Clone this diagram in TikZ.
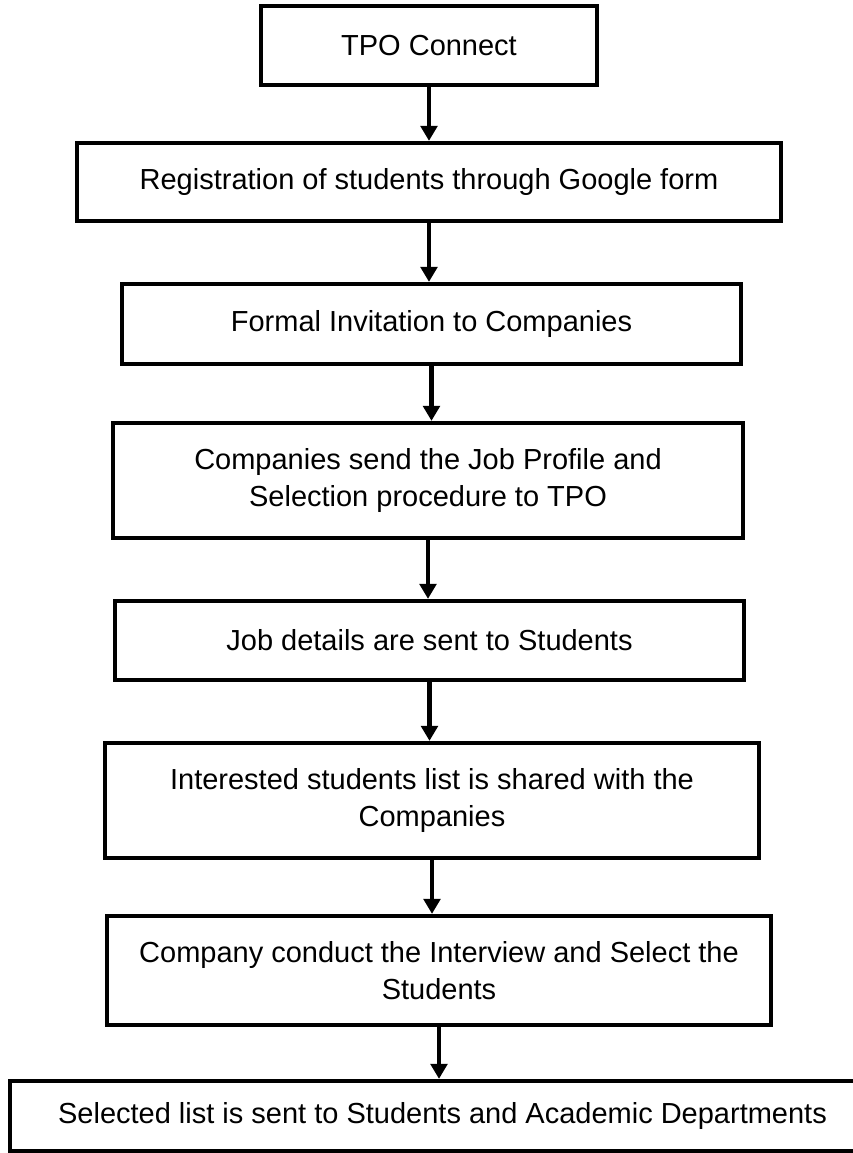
\documentclass[tikz,border=0pt]{standalone}
\usepackage{fontspec}
\setmainfont{Liberation Sans}
\usetikzlibrary{arrows.meta}

\tikzset{
    stepbox/.style = {draw, line width=2.4pt, inner sep=0pt, align=center,
                      font=\fontsize{16.5}{21}\selectfont},
    flow/.style    = {-{Triangle[length=3mm,width=3.3mm]}, line width=2.8pt}
}

\begin{document}
\begin{tikzpicture}
    \fill[white] (0,0) rectangle (17.06,-23.06);
    \useasboundingbox (0,0) rectangle (17.06,-23.06);

    \node[stepbox, minimum width=6.72cm,  minimum height=1.58cm] (tpo)       at (8.58,-0.91)  {TPO Connect};
    \node[stepbox, minimum width=14.08cm, minimum height=1.56cm] (register)  at (8.58,-3.64)  {Registration of students through Google form};
    \node[stepbox, minimum width=12.38cm, minimum height=1.60cm] (invite)    at (8.63,-6.48)  {Formal Invitation to Companies};
    \node[stepbox, minimum width=12.60cm, minimum height=2.30cm] (profile)   at (8.56,-9.61)  {Companies send the Job Profile and\\Selection procedure to TPO};
    \node[stepbox, minimum width=12.58cm, minimum height=1.58cm] (details)   at (8.59,-12.81) {Job details are sent to Students};
    \node[stepbox, minimum width=13.08cm, minimum height=2.30cm] (interest)  at (8.64,-16.01) {Interested students list is shared with the\\Companies};
    \node[stepbox, minimum width=13.28cm, minimum height=2.18cm] (interview) at (8.78,-19.41) {Company conduct the Interview and Select the\\Students};
    \node[stepbox, minimum width=17.30cm, minimum height=1.40cm] (selected)  at (8.85,-22.32) {Selected list is sent to Students and Academic Departments};

    \foreach \a/\b in {tpo/register, register/invite, invite/profile, profile/details,
                       details/interest, interest/interview, interview/selected}
        \draw[flow] (\a) -- (\a |- \b.north);
\end{tikzpicture}
\end{document}
